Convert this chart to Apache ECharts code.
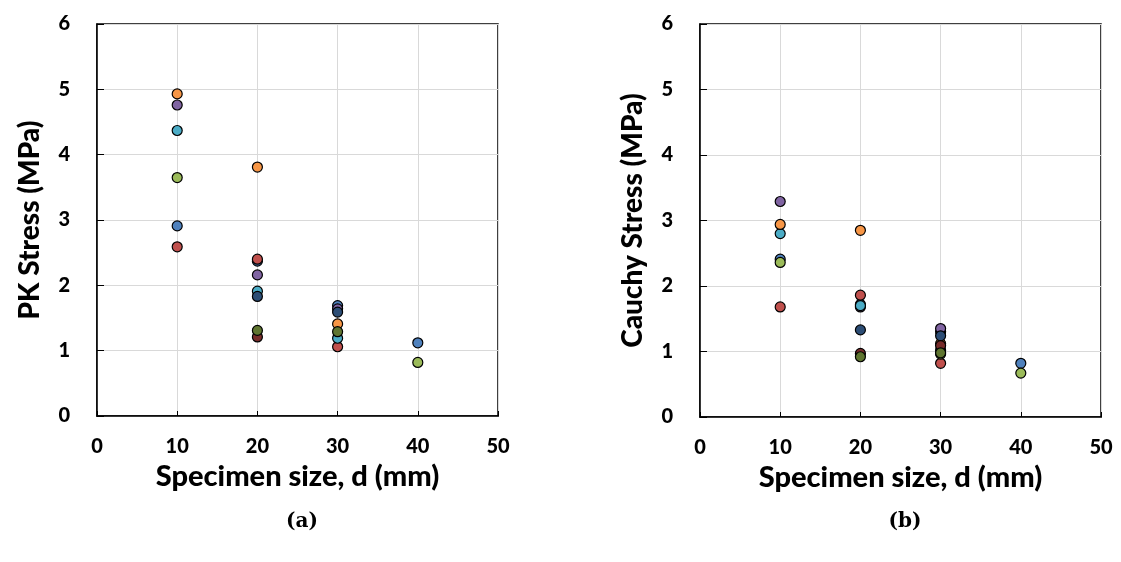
<!DOCTYPE html>
<html>
<head>
<meta charset="utf-8">
<script src="https://cdn.jsdelivr.net/npm/echarts@6/dist/echarts.min.js"></script>
<style>
html,body{margin:0;padding:0;background:#fff;}
#chart{width:1121px;height:562px;}
</style>
</head>
<body>
<div id="chart"></div>
<script>
// Specimen sizes (mm)
const sizes = [10, 20, 30, 40];
const xTicks = [0, 10, 20, 30, 40, 50];
const yTicks = [0, 1, 2, 3, 4, 5, 6];

// (a) PK stress (MPa), per series, aligned with sizes
const pkBlue     = [2.91, 2.37, 1.69, 1.12];
const pkRed      = [2.59, 2.40, 1.06, null];
const pkGreen    = [3.65, null, null, 0.82];
const pkPurple   = [4.76, 2.16, 1.64, null];
const pkCyan     = [4.37, 1.91, 1.19, null];
const pkOrange   = [4.93, 3.81, 1.41, null];
const pkDarkBlue = [null, 1.83, 1.59, null];
const pkDarkRed  = [null, 1.21, null, null];
const pkOlive    = [null, 1.31, 1.29, null];

// (b) Cauchy stress (MPa)
const caBlue     = [2.41, 1.72, 1.30, 0.82];
const caRed      = [1.68, 1.86, 0.82, null];
const caGreen    = [2.36, null, 0.96, 0.67];
const caPurple   = [3.29, 1.68, 1.35, null];
const caCyan     = [2.80, 1.70, 1.02, null];
const caOrange   = [2.94, 2.85, 1.12, null];
const caDarkBlue = [null, 1.33, 1.24, null];
const caDarkRed  = [null, 0.97, 1.09, null];
const caOlive    = [null, 0.92, 0.98, null];

const colors = {
  blue: '#4F81BD', red: '#C0504D', green: '#9BBB59', purple: '#8064A2',
  cyan: '#4BACC6', orange: '#F79646', darkBlue: '#2C4D75', darkRed: '#772C2A', olive: '#5F7530'
};

const pkSets = [
  ['blue', pkBlue], ['red', pkRed], ['green', pkGreen], ['purple', pkPurple], ['cyan', pkCyan],
  ['orange', pkOrange], ['darkBlue', pkDarkBlue], ['darkRed', pkDarkRed], ['olive', pkOlive]
];
const caSets = [
  ['blue', caBlue], ['red', caRed], ['green', caGreen], ['purple', caPurple], ['cyan', caCyan],
  ['orange', caOrange], ['darkBlue', caDarkBlue], ['darkRed', caDarkRed], ['olive', caOlive]
];

const FONT = 'Lato';

function pairs(arr) {
  const out = [];
  sizes.forEach((x, i) => { if (arr[i] != null) out.push([x, arr[i]]); });
  return out;
}

function makeSeries(sets, idx) {
  return sets.map(([c, arr]) => ({
    type: 'scatter',
    xAxisIndex: idx, yAxisIndex: idx,
    data: pairs(arr),
    symbol: 'circle',
    symbolSize: 10,
    itemStyle: { color: colors[c], borderColor: '#000', borderWidth: 1.2, opacity: 1 },
    emphasis: { disabled: true }
  }));
}

function xAxis(idx) {
  return {
    type: 'value', gridIndex: idx, min: xTicks[0], max: xTicks[xTicks.length - 1], interval: 10,
    name: 'Specimen size, d (mm)', nameLocation: 'middle', nameGap: 37,
    nameTextStyle: { fontFamily: FONT, fontWeight: 900, fontSize: 29, color: '#000' },
    axisLine: { show: true, lineStyle: { color: '#000', width: 1.5 } },
    axisTick: { show: true, inside: true, length: 5, lineStyle: { color: '#000', width: 1 } },
    axisLabel: { fontFamily: FONT, fontWeight: 900, fontSize: 20, color: '#000', margin: 21 },
    splitLine: { show: true, lineStyle: { color: '#d9d9d9', width: 1 } }
  };
}
function yAxis(idx, name) {
  return {
    type: 'value', gridIndex: idx, min: yTicks[0], max: yTicks[yTicks.length - 1], interval: 1,
    name: name, nameLocation: 'middle', nameGap: 53,
    nameTextStyle: { fontFamily: FONT, fontWeight: 900, fontSize: 28, color: '#000' },
    axisLine: { show: true, lineStyle: { color: '#000', width: 1.5 } },
    axisTick: { show: true, inside: true, length: 7, lineStyle: { color: '#000', width: 1 } },
    axisLabel: { fontFamily: FONT, fontWeight: 900, fontSize: 20, color: '#000', margin: 27 },
    splitLine: { show: true, lineStyle: { color: '#d9d9d9', width: 1 } }
  };
}

const capStyle = {
  rich: {
    p: { fontFamily: 'DejaVu Serif', fontSize: 20, color: '#000' },
    b: { fontFamily: 'DejaVu Serif', fontSize: 20, fontWeight: 'bold', color: '#000' }
  }
};

const chart = echarts.init(document.getElementById('chart'), null, { renderer: 'canvas' });
chart.setOption({
  animation: false,
  backgroundColor: '#fff',
  title: [
    { text: '{p|(}{b|a}{p|)}', left: 297, top: 507, textAlign: 'center', textStyle: capStyle },
    { text: '{p|(}{b|b}{p|)}', left: 900, top: 507, textAlign: 'center', textStyle: capStyle }
  ],
  grid: [
    { left: 97, right: 623, top: 24, bottom: 146, show: true, borderColor: '#000', borderWidth: 1.5, backgroundColor: 'transparent' },
    { left: 700, right: 20, top: 24, bottom: 145, show: true, borderColor: '#000', borderWidth: 1.5, backgroundColor: 'transparent' }
  ],
  xAxis: [xAxis(0), xAxis(1)],
  yAxis: [yAxis(0, 'PK Stress (MPa)'), yAxis(1, 'Cauchy Stress (MPa)')],
  series: makeSeries(pkSets, 0).concat(makeSeries(caSets, 1))
});
</script>
</body>
</html>
